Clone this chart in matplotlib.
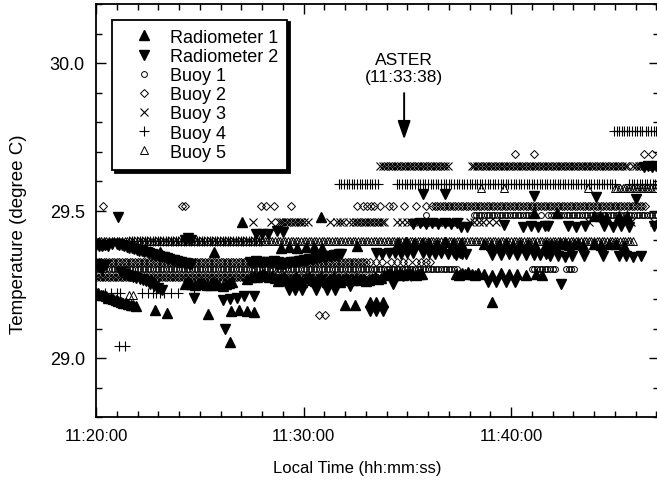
import matplotlib
matplotlib.use('Agg')
import matplotlib.pyplot as plt
from matplotlib.ticker import MultipleLocator, FuncFormatter

plt.rcParams['font.family'] = ['Liberation Sans', 'DejaVu Sans']

# time axis: minutes after 11:20:00
BUOY_STEP = 0.125  # buoy sampling interval (min)

# radiometer runs: (start min, step min, temperatures)
R1_RUNS = [
    (0.0, 0.12, [29.222, 29.22, 29.214, 29.212, 29.21, 29.204, 29.203, 29.199, 29.196,
                 29.193, 29.19, 29.188, 29.185, 29.183, 29.18, 29.178, 29.176]),
    (4.3, 0.15, [29.252, 29.256, 29.25, 29.246, 29.25, 29.255, 29.251, 29.246, 29.249,
                 29.256, 29.252, 29.248, 29.245, 29.25, 29.253, 29.256]),
    (7.3, 0.15, [29.268, 29.274, 29.279, 29.276, 29.281, 29.284, 29.279, 29.274, 29.279,
                 29.272, 29.268]),
    (8.75, 0.15, [29.262, 29.27, 29.276, 29.266, 29.259, 29.268, 29.274, 29.263, 29.258,
                  29.27, 29.276, 29.265, 29.26, 29.269, 29.275, 29.264, 29.258, 29.267,
                  29.273, 29.262, 29.259, 29.268, 29.272, 29.263]),
    (12.4, 0.15, [29.266, 29.27, 29.264, 29.268, 29.262, 29.266]),
    (13.3, 0.15, [29.27, 29.274, 29.268, 29.272, 29.28, 29.284, 29.286, 29.282, 29.285,
                  29.288, 29.283, 29.286, 29.284, 29.288, 29.282, 29.286, 29.284]),
    (17.35, 0.15, [29.286, 29.282, 29.288, 29.284, 29.29, 29.285, 29.282, 29.287]),
    (18.7, 0.4, [29.285, 29.283, 29.287, 29.284, 29.286, 29.282]),
    (21.2, 0.3, [29.285, 29.283]),
    (8.9, 0.4, [29.374, 29.377, 29.373, 29.376, 29.375, 29.372]),
    (14.55, 0.38, [29.39, 29.392, 29.389, 29.391, 29.39, 29.388, 29.392, 29.39, 29.389]),
    (18.7, 0.35, [29.386, 29.384, 29.387, 29.385, 29.383, 29.386, 29.385, 29.384]),
    (21.7, 0.22, [29.388, 29.386, 29.384, 29.387, 29.385, 29.383, 29.386, 29.385, 29.384]),
    (24.0, 0.35, [29.386, 29.384, 29.387, 29.385]),
    (24.0, 0.3, [29.48, 29.482, 29.479]),
    (25.2, 0.4, [29.481, 29.48]),
]
R1_PT_T = [0.1, 0.4, 3.1, 5.7, 2.85, 3.4, 5.4, 6.45, 6.5, 6.9, 7.3, 7.6, 7.05, 10.85,
           12.0, 12.5, 13.2, 13.5, 13.85, 19.1, 12.6, 25.45, 21.1, 22.2]
R1_PT_V = [29.39, 29.385, 29.36, 29.358, 29.164, 29.154, 29.15, 29.055, 29.16, 29.162,
           29.158, 29.155, 29.46, 29.478, 29.18, 29.18, 29.19, 29.19, 29.19, 29.19,
           29.38, 29.38, 29.49, 29.49]

R2_RUNS = [
    (0.0, 0.15, [29.384, 29.38, 29.378, 29.383, 29.379, 29.385]),
    (0.0, 0.15, [29.318, 29.31, 29.302, 29.314]),
    (1.0, 0.12, [29.386, 29.383, 29.382, 29.378, 29.377, 29.373, 29.372, 29.369, 29.367,
                 29.364, 29.363, 29.359, 29.358, 29.355, 29.353, 29.349, 29.348, 29.346,
                 29.342, 29.341, 29.338, 29.336, 29.333, 29.332, 29.33, 29.327, 29.326,
                 29.323, 29.322, 29.32, 29.318]),
    (1.2, 0.15, [29.292, 29.286, 29.281, 29.279, 29.274, 29.27, 29.268, 29.264, 29.26, 29.258]),
    (2.6, 0.2, [29.252, 29.244, 29.236, 29.23]),
    (7.4, 0.15, [29.326, 29.322, 29.328, 29.324, 29.321, 29.327, 29.325, 29.322, 29.328,
                 29.324, 29.322]),
    (8.7, 0.12, [29.316, 29.318, 29.318, 29.32, 29.322, 29.322, 29.324, 29.326, 29.326,
                 29.328, 29.33, 29.331, 29.332, 29.334, 29.335, 29.337, 29.338, 29.34,
                 29.341, 29.343, 29.344, 29.346, 29.347, 29.349, 29.35, 29.352, 29.354]),
    (13.5, 0.3, [29.356, 29.354, 29.357, 29.355, 29.353, 29.356, 29.355]),
    (15.75, 0.3, [29.355, 29.357, 29.353, 29.356, 29.354, 29.355, 29.357, 29.354]),
    (17.35, 0.3, [29.35, 29.352]),
    (19.1, 0.4, [29.35, 29.348, 29.351, 29.35, 29.349]),
    (21.1, 0.3, [29.35, 29.348, 29.351]),
    (21.9, 0.35, [29.345, 29.347, 29.344, 29.346]),
    (25.2, 0.35, [29.345, 29.346, 29.344, 29.345]),
    (15.3, 0.3, [29.455, 29.458, 29.454, 29.457, 29.455, 29.456, 29.454, 29.457]),
    (17.6, 0.3, [29.445, 29.443]),
    (20.6, 0.35, [29.445, 29.447, 29.444, 29.446]),
    (22.75, 0.4, [29.447, 29.445, 29.446]),
    (24.5, 0.4, [29.446, 29.444, 29.447, 29.445]),
    (26.4, 0.2, [29.648, 29.652, 29.646, 29.65]),
]
R2_PT_T = [1.06, 4.3, 4.45, 4.6, 7.7, 8.0, 8.3, 8.7, 9.0, 4.7, 6.1, 6.45, 6.8, 7.15, 7.6,
           6.2, 9.3, 9.6, 9.95, 10.6, 11.15, 11.5, 11.95, 12.25, 13.2, 13.5, 13.85, 14.3,
           18.9, 19.3, 19.75, 20.2, 22.4, 19.65, 21.8, 26.9, 15.75, 16.8, 21.1, 24.1,
           26.0, 23.5, 24.45]
R2_PT_V = [29.478, 29.40, 29.406, 29.40, 29.42, 29.422, 29.42, 29.43, 29.427, 29.205,
           29.195, 29.2, 29.205, 29.21, 29.21, 29.10, 29.232, 29.23, 29.232, 29.23,
           29.232, 29.23, 29.26, 29.245, 29.16, 29.16, 29.16, 29.25, 29.256, 29.256,
           29.256, 29.256, 29.25, 29.45, 29.447, 29.447, 29.556, 29.556, 29.55, 29.546,
           29.54, 29.345, 29.345]

# buoy runs: (start min, end min, quantised level); isolated samples in *_PT_*
B1_RUNS = [(0.0, 17.4, 29.303), (21.0, 22.1, 29.303), (22.65, 23.0, 29.303),
           (18.2, 21.0, 29.485), (21.8, 27.0, 29.485)]
B1_PT_T = [15.9, 21.45]
B1_PT_V = [29.485, 29.485]

B2_RUNS = [(0.0, 13.0, 29.324), (16.2, 26.5, 29.515)]
B2_PT_T = [0.34, 4.15, 4.3, 7.95, 8.2, 8.6, 9.4, 12.6, 12.85, 13.05, 13.25, 13.4, 13.7,
           14.1, 14.3, 14.85, 15.4, 15.9,
           13.2, 13.5, 13.8, 14.2, 14.5, 14.8, 15.05, 15.4, 15.65, 15.9, 16.1,
           10.75, 11.05, 20.2, 21.1, 26.4, 26.8]
B2_PT_V = [29.515] * 18 + [29.324] * 11 + [29.147, 29.147, 29.693, 29.693, 29.693, 29.693]

B3_RUNS = [(0.0, 13.0, 29.273), (8.9, 10.0, 29.462), (12.4, 13.9, 29.462),
           (15.5, 17.5, 29.462), (13.7, 15.05, 29.652), (15.2, 17.0, 29.652),
           (18.1, 25.6, 29.652), (25.9, 27.0, 29.652)]
B3_PT_T = [13.3, 13.7, 14.1, 14.6, 15.0,
           7.55, 8.45, 8.8, 10.2, 11.3, 11.6, 11.75, 11.9, 12.2, 14.5, 14.75, 15.0, 15.2,
           15.4, 18.0, 18.2, 18.45, 18.65, 18.95, 19.3, 23.75, 25.8, 26.9]
B3_PT_V = [29.273] * 5 + [29.462] * 23

B4_RUNS = [(1.6, 8.0, 29.396), (11.7, 13.6, 29.59), (14.5, 25.05, 29.59),
           (25.7, 27.0, 29.59), (24.96, 26.35, 29.768), (26.5, 27.0, 29.768)]
B4_PT_T = [0.45, 0.7, 1.0, 1.15, 2.2, 2.5, 2.75, 2.9, 3.1, 3.3, 3.6, 3.95, 4.7, 1.1, 1.4]
B4_PT_V = [29.222] * 13 + [29.04, 29.04]

B5_RUNS = [(0.0, 25.9, 29.396), (25.0, 27.0, 29.577)]
B5_PT_T = [18.55, 19.65, 23.7, 1.6, 1.8]
B5_PT_V = [29.577, 29.577, 29.577, 29.215, 29.215]

ASTER_T = 14.85  # arrow position on the time axis


def expand_radiometer(runs, pt_t, pt_v):
    t, v = [], []
    for t0, step, temps in runs:
        for k, temp in enumerate(temps):
            t.append(t0 + k * step)
            v.append(temp)
    return t + list(pt_t), v + list(pt_v)


def expand_buoy(runs, pt_t, pt_v):
    t, v = [], []
    for t0, t1, level in runs:
        n = int(round((t1 - t0) / BUOY_STEP)) + 1
        for k in range(n):
            t.append(t0 + k * BUOY_STEP)
            v.append(level)
    return t + list(pt_t), v + list(pt_v)


def fmt_time(x, pos):
    sec = int(round(11 * 3600 + 20 * 60 + x * 60))
    return f"{sec // 3600}:{(sec % 3600) // 60:02d}:{sec % 60:02d}"


fig = plt.figure(figsize=(6.57, 4.85), dpi=100)
ax = fig.add_axes([96 / 657, 67 / 485, 563 / 657, 413 / 485])

buoys = [
    ('Buoy 1', B1_RUNS, B1_PT_T, B1_PT_V, dict(marker='o', ms=4.2, mew=0.7)),
    ('Buoy 2', B2_RUNS, B2_PT_T, B2_PT_V, dict(marker='D', ms=4.2, mew=0.7)),
    ('Buoy 3', B3_RUNS, B3_PT_T, B3_PT_V, dict(marker='x', ms=5.5, mew=0.8)),
    ('Buoy 4', B4_RUNS, B4_PT_T, B4_PT_V, dict(marker='+', ms=6.5, mew=0.8)),
    ('Buoy 5', B5_RUNS, B5_PT_T, B5_PT_V, dict(marker='^', ms=5.5, mew=0.7)),
]
handles = {}
for name, runs, pt, pv, style in buoys:
    t, v = expand_buoy(runs, pt, pv)
    h, = ax.plot(t, v, ls='none', color='black', mfc='none', label=name, **style)
    handles[name] = h

for name, runs, pt, pv, m in [('Radiometer 1', R1_RUNS, R1_PT_T, R1_PT_V, '^'),
                              ('Radiometer 2', R2_RUNS, R2_PT_T, R2_PT_V, 'v')]:
    t, v = expand_radiometer(runs, pt, pv)
    h, = ax.plot(t, v, ls='none', marker=m, ms=7, color='black', mec='black', label=name)
    handles[name] = h

order = ['Radiometer 1', 'Radiometer 2', 'Buoy 1', 'Buoy 2', 'Buoy 3', 'Buoy 4', 'Buoy 5']
leg = ax.legend([handles[k] for k in order], order, loc='upper left',
                bbox_to_anchor=(0.028, 0.962), borderaxespad=0, fancybox=False,
                framealpha=1, edgecolor='black', fontsize=13, labelspacing=0.12,
                handlelength=2.6, handletextpad=0.1, borderpad=0.5,
                shadow={'color': 'black', 'alpha': 1})
leg.get_frame().set_linewidth(1.3)

# ASTER overpass marker
ax.text(ASTER_T, 29.928, 'ASTER\n(11:33:38)', ha='center', va='bottom',
        fontsize=12.5, linespacing=1.15)
ax.annotate('', xy=(ASTER_T, 29.741), xytext=(ASTER_T, 29.898),
            arrowprops=dict(arrowstyle='-|>,head_length=0.8,head_width=0.28',
                            color='black', lw=1.4, mutation_scale=14,
                            shrinkA=0, shrinkB=0))

ax.set_xlim(0, 563 / 20.75)
ax.set_ylim(28.8, 30.2)
ax.xaxis.set_major_locator(MultipleLocator(10))
ax.xaxis.set_minor_locator(MultipleLocator(1))
ax.xaxis.set_major_formatter(FuncFormatter(fmt_time))
ax.yaxis.set_major_locator(MultipleLocator(0.5))
ax.yaxis.set_minor_locator(MultipleLocator(0.1))
ax.yaxis.set_major_formatter(FuncFormatter(lambda v, p: f"{v:.1f}"))
ax.tick_params(which='both', direction='in', top=True, right=True, width=1)
ax.tick_params(which='major', length=7, pad=8)
ax.tick_params(axis='x', labelsize=12)
ax.tick_params(axis='y', labelsize=13)
ax.tick_params(which='minor', length=4)
for s in ax.spines.values():
    s.set_linewidth(1.3)

ax.set_xlabel('Local Time (hh:mm:ss)', fontsize=12)
ax.set_ylabel('Temperature (degree C)', fontsize=13.5)
ax.xaxis.set_label_coords((357 - 96) / 563, -0.105)
ax.yaxis.set_label_coords(-0.1226, 0.4455)

fig.savefig('out.png', dpi=100)
